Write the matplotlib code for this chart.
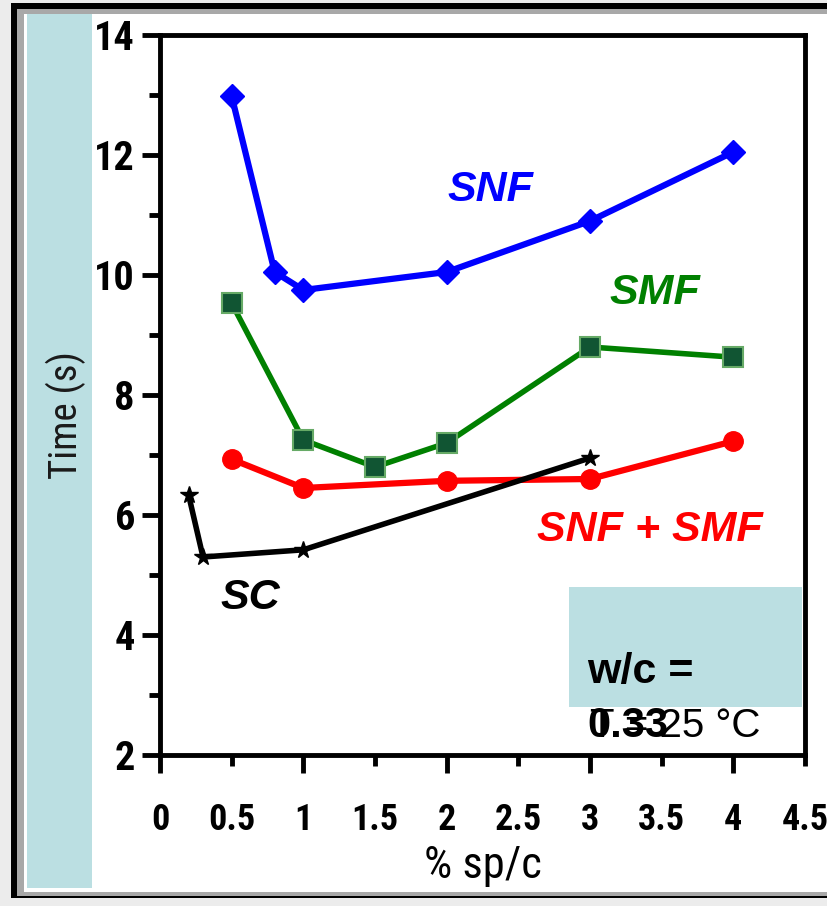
import matplotlib
matplotlib.use("Agg")
import matplotlib.pyplot as plt
from matplotlib.patches import Rectangle
from matplotlib.ticker import MultipleLocator, FormatStrFormatter
from matplotlib import font_manager
from matplotlib.font_manager import FontProperties

# ---- data ----
snf_x = [0.5, 0.8, 1.0, 2.0, 3.0, 4.0]
snf_y = [12.98, 10.05, 9.75, 10.05, 10.9, 12.05]

smf_x = [0.5, 1.0, 1.5, 2.0, 3.0, 4.0]
smf_y = [9.53, 7.25, 6.8, 7.2, 8.8, 8.63]

mix_x = [0.5, 1.0, 2.0, 3.0, 4.0]
mix_y = [6.93, 6.45, 6.57, 6.6, 7.23]

sc_x = [0.2, 0.3, 1.0, 3.0]
sc_y = [6.33, 5.3, 5.42, 6.95]

x_ticks = [0, 0.5, 1, 1.5, 2, 2.5, 3, 3.5, 4, 4.5]
y_ticks = [2, 4, 6, 8, 10, 12, 14]


# ---- pick a narrow sans font file if one exists ----
def _is_narrow(f):
    st = f.stretch
    if isinstance(st, str):
        narrow = st in ("condensed", "semi-condensed", "extra-condensed", "ultra-condensed")
    else:
        narrow = st < 500
    return narrow or "Narrow" in f.name or "Condensed" in f.name


def _pick(bold):
    best = None
    for f in font_manager.fontManager.ttflist:
        if not _is_narrow(f) or f.style != "normal":
            continue
        if "Mono" in f.name or "Serif" in f.name:
            continue
        w = f.weight if isinstance(f.weight, int) else (700 if f.weight == "bold" else 400)
        if bold != (w >= 600):
            continue
        score = 0
        for i, key in enumerate(["Liberation Sans Narrow", "Arial Narrow", "Roboto Condensed",
                                 "Open Sans Condensed", "DejaVu Sans", "Noto Sans"]):
            if f.name.startswith(key):
                score = 10 - i
                break
        if best is None or score > best[0]:
            best = (score, f.fname)
    return best[1] if best else None


_nb = _pick(True)
_nr = _pick(False)


def nprops(size, bold=False):
    fn = _nb if bold else _nr
    if fn:
        return FontProperties(fname=fn, size=size)
    return FontProperties(family=["Liberation Sans", "DejaVu Sans"], size=size,
                          weight="bold" if bold else "normal")


SANS = ["Liberation Sans", "DejaVu Sans"]

W, H = 827, 906
fig = plt.figure(figsize=(W / 100, H / 100), dpi=100)
fig.patch.set_facecolor("#ECECEC")


def px(x0, y0, x1, y1, **kw):
    return Rectangle((x0 / W, 1 - y1 / H), (x1 - x0) / W, (y1 - y0) / H,
                     transform=fig.transFigure, **kw)


# frame
fig.patches.append(px(11, 3, 830, 898, facecolor="black", edgecolor="none", zorder=-5))
fig.patches.append(px(17, 9, 830, 896, facecolor="#A8A8A8", edgecolor="none", zorder=-4))
fig.patches.append(px(24, 14, 830, 892, facecolor="white", edgecolor="none", zorder=-3))
fig.patches.append(px(27, 14, 92, 888, facecolor="#BBDFE2", edgecolor="none", zorder=-2))

ax = fig.add_axes([160 / W, 1 - 755 / H, (805 - 160) / W, (755 - 35) / H])
ax.set_facecolor("none")

ax.plot(snf_x, snf_y, color="#0000FF", lw=4.5, marker="D", ms=12,
        mfc="#0000FF", mec="#0000FF", zorder=5, clip_on=False)
ax.plot(smf_x, smf_y, color="#008000", lw=4.0, marker="s", ms=14,
        mfc="#115533", mec="#66AA66", mew=1.5, zorder=4, clip_on=False)
ax.plot(mix_x, mix_y, color="#FF0000", lw=4.5, marker="o", ms=14,
        mfc="#FF0000", mec="#FF0000", zorder=3, clip_on=False)
ax.plot(sc_x, sc_y, color="black", lw=4.0, marker="*", ms=13,
        mfc="black", mec="black", zorder=6, clip_on=False)

ax.set_xlim(0, 4.5)
ax.set_ylim(2, 14)

for s in ax.spines.values():
    s.set_linewidth(3.5)
    s.set_color("black")

ax.xaxis.set_major_locator(MultipleLocator(1))
ax.xaxis.set_minor_locator(MultipleLocator(0.5))
ax.xaxis.set_major_formatter(FormatStrFormatter("%g"))
ax.xaxis.set_minor_formatter(FormatStrFormatter("%g"))
ax.yaxis.set_major_locator(MultipleLocator(2))
ax.yaxis.set_minor_locator(MultipleLocator(1))
ax.set_yticks(y_ticks)

ax.tick_params(axis="both", which="major", direction="out", length=13, width=3.5, color="black")
ax.tick_params(axis="both", which="minor", direction="out", length=8, width=3.5, color="black")
ax.tick_params(axis="x", which="major", pad=21)
ax.tick_params(axis="x", which="minor", pad=26)
ax.tick_params(axis="y", which="major", pad=5)

fig.canvas.draw()
xp = nprops(26, bold=True)
yp = nprops(29, bold=True)
for lab in ax.get_xticklabels(which="both"):
    lab.set_fontproperties(xp)
for lab in ax.get_yticklabels():
    lab.set_fontproperties(yp)

fig.text(66 / W, 1 - 415 / H, "Time (s)", rotation=90, ha="center", va="center",
         fontproperties=nprops(28), color="#1a1a1a")
fig.text(483 / W, 1 - 866 / H, "% sp/c", ha="center", va="center",
         fontproperties=nprops(32), color="black")

# series labels
fig.text(490 / W, 1 - 190 / H, "SNF", ha="center", va="center", fontsize=31,
         family=SANS, style="italic", weight="bold", color="#0000FF")
fig.text(655 / W, 1 - 293 / H, "SMF", ha="center", va="center", fontsize=31,
         family=SANS, style="italic", weight="bold", color="#008000")
fig.text(650 / W, 1 - 530 / H, "SNF + SMF", ha="center", va="center", fontsize=31,
         family=SANS, style="italic", weight="bold", color="#FF0000")
fig.text(250 / W, 1 - 598 / H, "SC", ha="center", va="center", fontsize=31,
         family=SANS, style="italic", weight="bold", color="black")

# annotation box
ax.add_patch(Rectangle((569 / W, 1 - 707 / H), (802 - 569) / W, (707 - 587) / H,
                       transform=fig.transFigure, facecolor="#BBDFE2",
                       edgecolor="none", zorder=1, clip_on=False))
fig.text(587 / W, 1 - 672 / H, "w/c =", ha="left", va="center", fontsize=31,
         family=SANS, weight="bold", color="black")
fig.text(590 / W, 1 - 726 / H, "T = 25 °C", ha="left", va="center", fontsize=29,
         family=SANS, color="black")
fig.text(587 / W, 1 - 726 / H, "0.33", ha="left", va="center", fontsize=30,
         family=SANS, weight="bold", color="black")

fig.savefig("out.png", dpi=100, facecolor=fig.get_facecolor())
